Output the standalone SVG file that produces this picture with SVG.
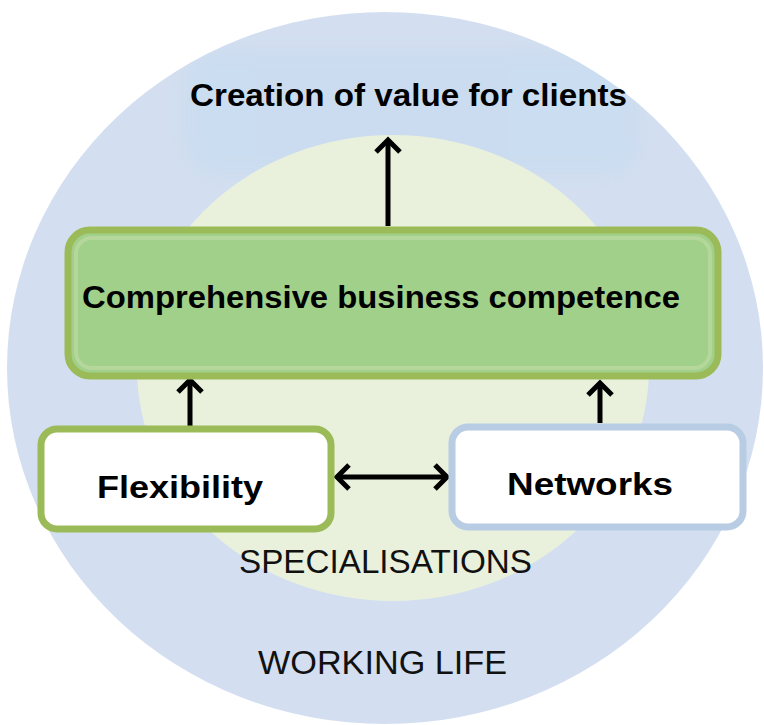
<svg xmlns="http://www.w3.org/2000/svg" width="764" height="725" viewBox="0 0 764 725">
<defs>
<style>
.bold{font-family:"Liberation Sans",Arial,sans-serif;font-weight:bold;font-size:31px;fill:#000;}
.reg{font-family:"Liberation Sans",Arial,sans-serif;font-size:33px;fill:#111;}
.conn{stroke:#000;stroke-width:5;fill:none;}
</style>
<marker id="chev" viewBox="0 0 30 30" markerWidth="30" markerHeight="30" refX="16" refY="15" orient="auto-start-reverse" markerUnits="userSpaceOnUse">
<path d="M4,3 L16,15 L4,27" stroke="#000" stroke-width="5" fill="none"/>
</marker>
<filter id="blur" x="-10%" y="-10%" width="120%" height="120%"><feGaussianBlur stdDeviation="8"/></filter>
<clipPath id="outerClip"><ellipse cx="385" cy="368" rx="378" ry="356"/></clipPath>
</defs>
<rect width="764" height="725" fill="#ffffff"/>
<g id="background">
<ellipse cx="385" cy="368" rx="378" ry="356" fill="#d3dff0"/>
<g clip-path="url(#outerClip)">
<rect x="185" y="50" width="455" height="125" rx="30" fill="#c9dcf0" opacity="0.75" filter="url(#blur)"/>
</g>
<ellipse cx="393" cy="368" rx="256" ry="233" fill="#e9f1dc"/>
</g>
<g id="connectors">
<line class="conn" x1="388" y1="226" x2="388" y2="140" marker-end="url(#chev)"/>
<line class="conn" x1="190" y1="426" x2="190" y2="380" marker-end="url(#chev)"/>
<line class="conn" x1="600" y1="423" x2="600" y2="383" marker-end="url(#chev)"/>
<line class="conn" x1="337" y1="477" x2="447" y2="477" marker-start="url(#chev)" marker-end="url(#chev)"/>
</g>
<g id="node-creation">
<text class="bold" x="190" y="106" textLength="437" lengthAdjust="spacingAndGlyphs">Creation of value for clients</text>
</g>
<g id="node-competence">
<rect x="68" y="230" width="650" height="146" rx="22" fill="#a0d08a" stroke="#9bbb59" stroke-width="7"/>
<rect x="76" y="238" width="634" height="130" rx="16" fill="none" stroke="#bcd89f" stroke-width="4" opacity="0.8"/>
<text class="bold" x="82" y="308" textLength="598" lengthAdjust="spacingAndGlyphs">Comprehensive business competence</text>
</g>
<g id="node-flexibility">
<rect x="41" y="429" width="290" height="100" rx="16" fill="#ffffff" stroke="#9bbb59" stroke-width="7"/>
<text class="bold" x="97" y="498" textLength="166" lengthAdjust="spacingAndGlyphs">Flexibility</text>
</g>
<g id="node-networks">
<rect x="452" y="427" width="291" height="100" rx="16" fill="#ffffff" stroke="#b8cce4" stroke-width="7"/>
<text class="bold" x="507" y="495" textLength="166" lengthAdjust="spacingAndGlyphs">Networks</text>
</g>
<g id="labels">
<text class="reg" x="239" y="573" textLength="293" lengthAdjust="spacingAndGlyphs">SPECIALISATIONS</text>
<text class="reg" x="258" y="674" textLength="249" lengthAdjust="spacingAndGlyphs">WORKING LIFE</text>
</g>
</svg>
